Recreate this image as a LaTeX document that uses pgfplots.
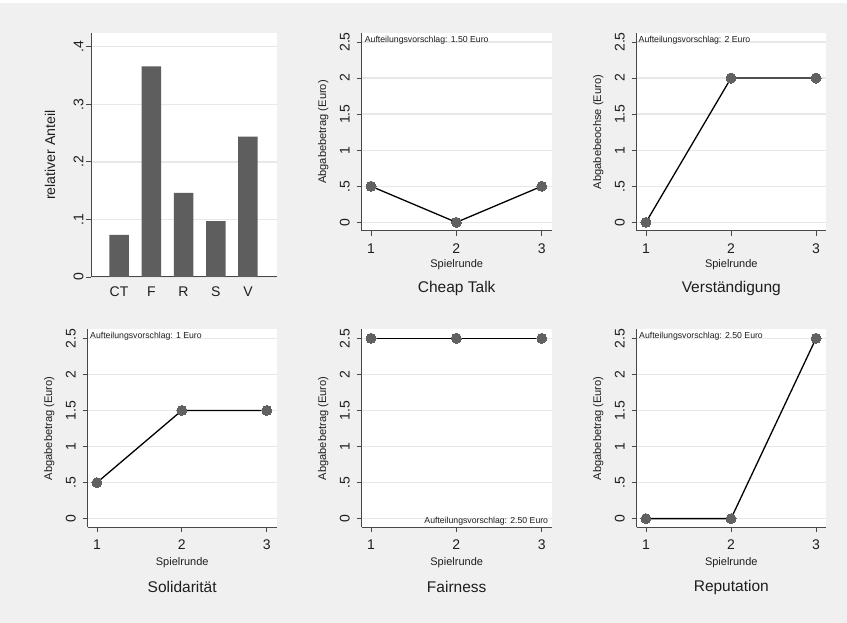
\documentclass[border=0pt]{standalone}
\usepackage{pgfplots}
\pgfplotsset{compat=1.18}
\usepackage{fontspec}
\setmainfont{Liberation Sans}
\definecolor{bggray}{HTML}{F0F0F0}
\definecolor{gridgray}{HTML}{E8E8E8}
\definecolor{bargray}{HTML}{5E5E5E}
\definecolor{markgray}{HTML}{616161}
\definecolor{axgray}{HTML}{484848}
\definecolor{txt}{HTML}{1E1E1E}

\pgfplotsset{
 stata/.style={
  scale only axis,
  axis x line*=bottom, axis y line*=left,
  axis line style={-, axgray, line width=1pt},
  axis background/.style={fill=white},
  tick align=outside, major tick length=5pt,
  tick style={axgray, line width=0.8pt},
  ymajorgrids, grid style={gridgray, line width=1.3pt},
  every tick label/.append style={font=\fontsize{14}{16}\selectfont, text=txt},
  yticklabel style={rotate=90, anchor=south},
  yticklabel shift=3.5pt,
  xticklabel shift=1pt,
  /pgf/number format/assume math mode=true,
 },
 linepanel/.style={stata, width=190pt, height=198pt,
  xmin=0.891, xmax=3.117, ymin=-0.12, ymax=2.625,
  xtick={1,2,3}, xticklabels={1,2,3}, xticklabel shift=4pt,
  ytick={0,0.5,1,1.5,2,2.5}, yticklabels={0,.5,1,1.5,2,2.5}},
 ser/.style={black, line width=1.3pt, mark=*, mark size=5pt,
  mark options={fill=markgray, draw=markgray, line width=0pt}},
}
\newcommand{\annfont}{\fontsize{8.7}{10}\selectfont}
\newcommand{\ylfont}{\fontsize{11.1}{13}\selectfont}
\newcommand{\xlfont}{\fontsize{11}{13}\selectfont}
\newcommand{\ttfont}{\fontsize{15.5}{18}\selectfont}

\begin{document}
\begin{tikzpicture}[x=1pt,y=1pt]
\path (0,0) rectangle (847,623);
\fill[bggray] (0,0) rectangle (847,620);

% Panel 1: bar chart
\begin{axis}[stata, at={(91pt,346pt)}, anchor=south west, width=186pt, height=244pt,
  xmin=0.13, xmax=5.9, ymin=0, ymax=0.424,
  ytick={0,0.1,0.2,0.3,0.4}, yticklabels={0,.1,.2,.3,.4},
  yticklabel shift=-1pt,
  xtick={1,2,3,4,5}, xticklabels={CT,F,R,S,V},
  major x tick style={draw=none},
  ybar, bar width=19.5pt]
\addplot[fill=bargray, draw=none] coordinates {(1,0.073) (2,0.366) (3,0.146) (4,0.097) (5,0.244)};
\end{axis}

% Panel 2: Cheap Talk
\begin{axis}[linepanel, at={(361.7pt,392pt)}, anchor=south west]
\addplot[ser] coordinates {(1,0.5) (2,0) (3,0.5)};
\node[anchor=north west, inner sep=0pt, font=\annfont, text=txt, xshift=3pt, yshift=-3pt] at (rel axis cs:0,1) {Aufteilungsvorschlag: 1.50 Euro};
\end{axis}

% Panel 3: Verstaendigung
\begin{axis}[linepanel, at={(636.7pt,392pt)}, anchor=south west, width=189.3pt]
\addplot[ser] coordinates {(1,0) (2,2) (3,2)};
\node[anchor=north west, inner sep=0pt, font=\annfont, text=txt, xshift=1.8pt, yshift=-3pt] at (rel axis cs:0,1) {Aufteilungsvorschlag: 2 Euro};
\end{axis}

% Panel 4: Solidaritaet
\begin{axis}[linepanel, at={(87.7pt,95.7pt)}, anchor=south west, width=189pt]
\addplot[ser] coordinates {(1,0.5) (2,1.5) (3,1.5)};
\node[anchor=north west, inner sep=0pt, font=\annfont, text=txt, xshift=2.3pt, yshift=-3pt] at (rel axis cs:0,1) {Aufteilungsvorschlag: 1 Euro};
\end{axis}

% Panel 5: Fairness
\begin{axis}[linepanel, at={(361.7pt,95.7pt)}, anchor=south west]
\addplot[ser] coordinates {(1,2.5) (2,2.5) (3,2.5)};
\node[anchor=south east, inner sep=0pt, font=\annfont, text=txt, xshift=-3.4pt, yshift=1.7pt] at (rel axis cs:1,0) {Aufteilungsvorschlag: 2.50 Euro};
\end{axis}

% Panel 6: Reputation
\begin{axis}[linepanel, at={(636.7pt,95.7pt)}, anchor=south west, width=189.3pt]
\addplot[ser] coordinates {(1,0) (2,0) (3,2.5)};
\node[anchor=north west, inner sep=0pt, font=\annfont, text=txt, xshift=2.3pt, yshift=-3pt] at (rel axis cs:0,1) {Aufteilungsvorschlag: 2.50 Euro};
\end{axis}

% axis titles and panel titles
\node[rotate=90, font=\fontsize{14.2}{16}\selectfont, text=txt] at (50,468) {relativer Anteil};
\node[rotate=90, font=\ylfont, text=txt] at (323.3,491) {Abgabebetrag (Euro)};
\node[rotate=90, font=\ylfont, text=txt] at (598.3,491) {Abgabebeochse (Euro)};
\node[rotate=90, font=\ylfont, text=txt] at (49.3,194.7) {Abgabebetrag (Euro)};
\node[rotate=90, font=\ylfont, text=txt] at (323.3,194.7) {Abgabebetrag (Euro)};
\node[rotate=90, font=\ylfont, text=txt] at (598.3,194.7) {Abgabebetrag (Euro)};

\node[font=\xlfont, text=txt] at (456.7,358) {Spielrunde};
\node[font=\xlfont, text=txt] at (731.3,358) {Spielrunde};
\node[font=\xlfont, text=txt] at (182.2,60.7) {Spielrunde};
\node[font=\xlfont, text=txt] at (456.7,60.7) {Spielrunde};
\node[font=\xlfont, text=txt] at (731.3,60.7) {Spielrunde};

\node[font=\ttfont, text=txt] at (456.7,334.7) {Cheap Talk};
\node[font=\ttfont, text=txt] at (731.3,334.7) {Verständigung};
\node[font=\ttfont, text=txt] at (182.2,36) {Solidarität};
\node[font=\ttfont, text=txt] at (456.7,36) {Fairness};
\node[font=\ttfont, text=txt] at (731.3,36) {Reputation};
\end{tikzpicture}
\end{document}
